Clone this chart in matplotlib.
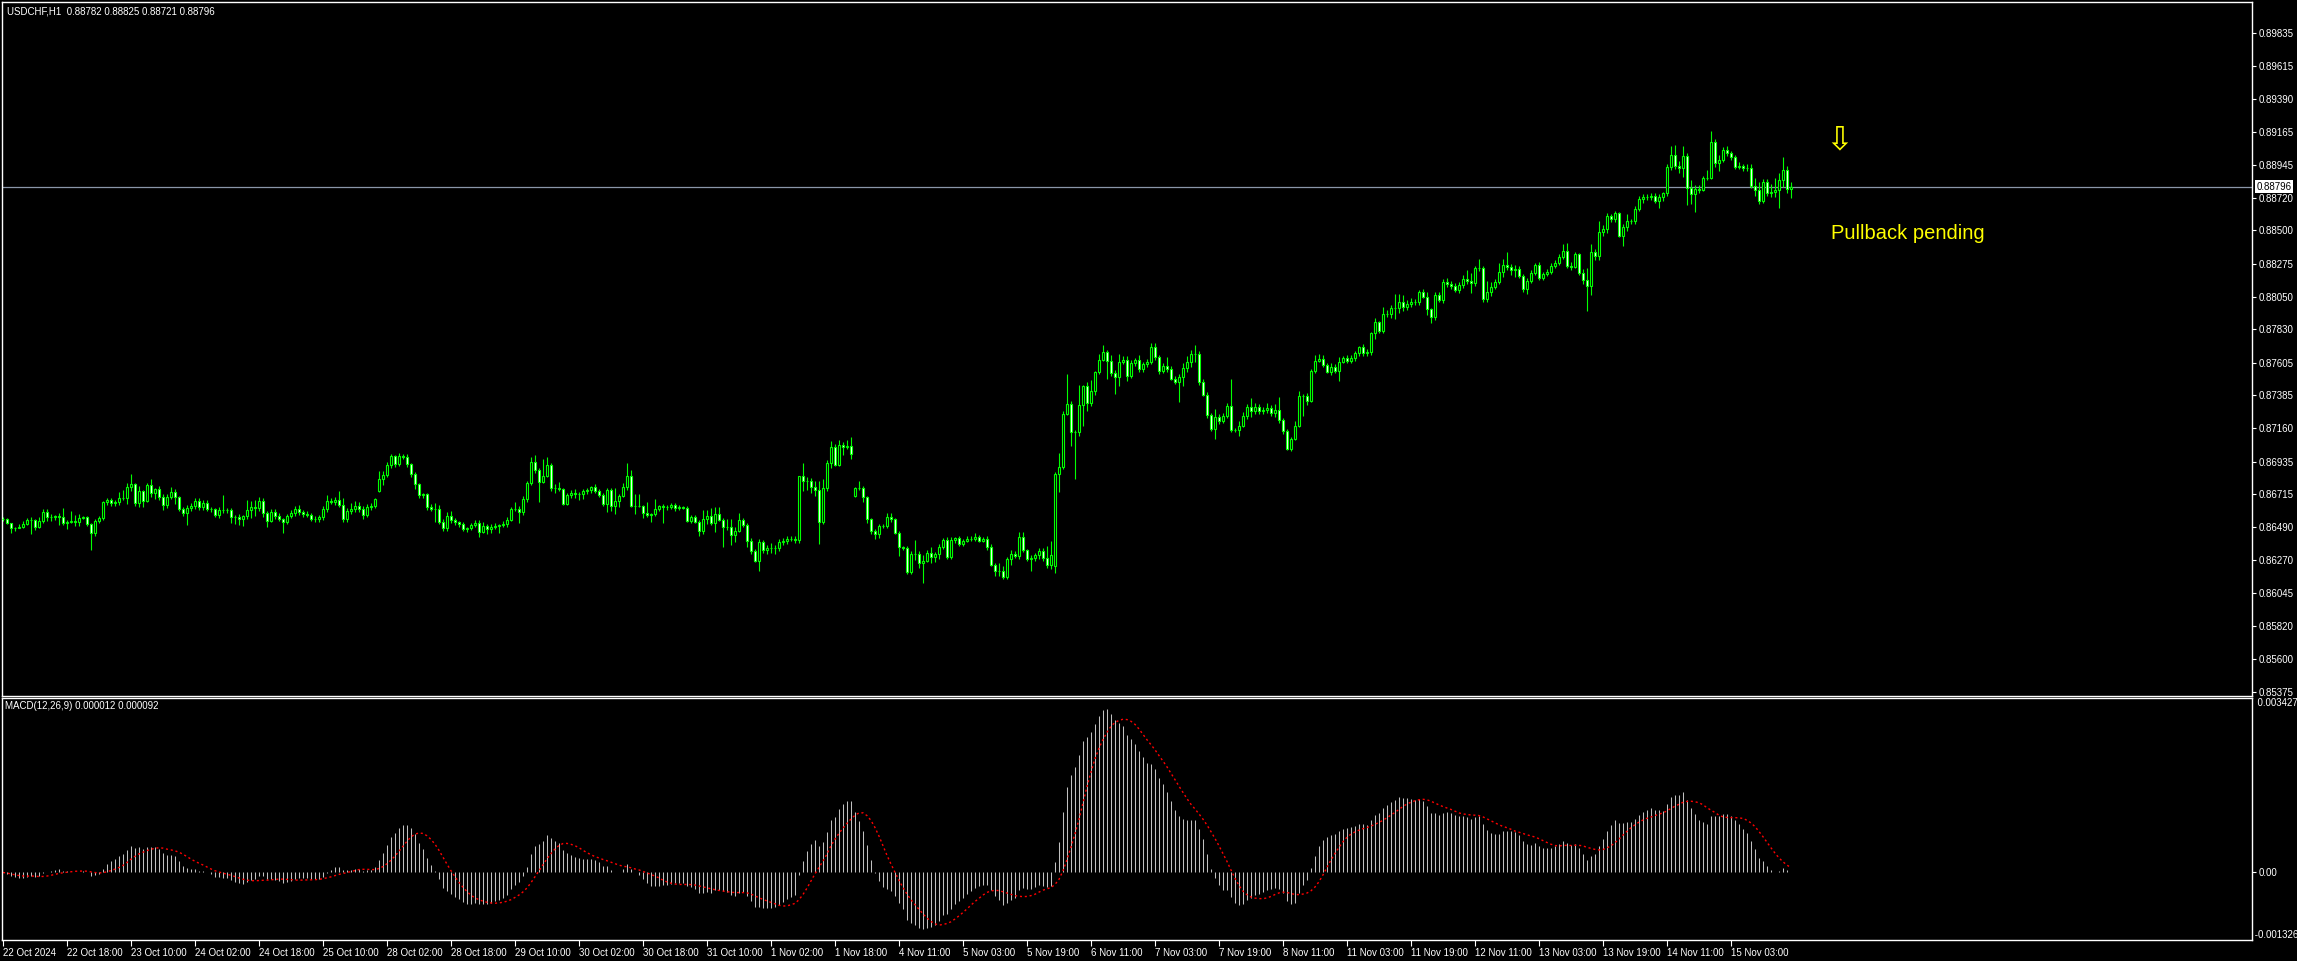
import numpy as np
import pandas as pd
import matplotlib
matplotlib.use('Agg')
import matplotlib.pyplot as plt

# USDCHF H1, closes in points (1e-5)
closes = [
    86544, 86516, 86483, 86487, 86494, 86512, 86539, 86539, 86494, 86530,
    86591, 86557, 86562, 86564, 86562, 86521, 86528, 86535, 86528, 86553,
    86557, 86510, 86449, 86532, 86550, 86659, 86672, 86656, 86659, 86686,
    86690, 86760, 86780, 86652, 86735, 86668, 86774, 86720, 86747, 86692,
    86638, 86692, 86726, 86692, 86611, 86584, 86618, 86636, 86670, 86625,
    86652, 86616, 86611, 86573, 86607, 86604, 86607, 86562, 86559, 86546,
    86564, 86607, 86625, 86618, 86668, 86589, 86535, 86591, 86564, 86544,
    86523, 86568, 86584, 86611, 86591, 86580, 86573, 86544, 86548, 86562,
    86611, 86668, 86659, 86672, 86643, 86548, 86600, 86611, 86634, 86611,
    86575, 86625, 86632, 86679, 86814, 86844, 86911, 86972, 86918, 86972,
    86968, 86916, 86848, 86780, 86706, 86715, 86629, 86616, 86616, 86528,
    86483, 86568, 86539, 86523, 86512,
    86478, 86483, 86506, 86522, 86461, 86499, 86477, 86490, 86497, 86504,
    86510, 86540, 86612, 86616, 86596, 86679, 86788, 86930, 86878, 86799,
    86837, 86912, 86758, 86754, 86747, 86648, 86709, 86722, 86715, 86718,
    86736, 86740, 86761, 86736, 86706, 86648, 86743, 86637, 86668, 86702,
    86761, 86837, 86634, 86637, 86634, 86589, 86573, 86578, 86612, 86632,
    86625, 86630, 86641, 86623, 86625, 86623, 86533, 86558, 86528, 86467,
    86544, 86567, 86517, 86580, 86540, 86494, 86494, 86438, 86465, 86540,
    86506, 86400, 86330, 86264, 86388, 86336, 86348, 86348, 86352, 86388,
    86395, 86409, 86409, 86404, 86837, 86803, 86801, 86765, 86743, 86528,
    86754, 86923, 87031, 86912, 87047, 87036, 87043, 86984, 86754, 86758,
    86693, 86544, 86467, 86443, 86499, 86497, 86562, 86544, 86454, 86355,
    86348, 86185, 86307, 86307, 86246, 86264, 86314, 86287, 86307, 86354,
    86404, 86287, 86404, 86415, 86375, 86397, 86413, 86409, 86424, 86400,
    86409, 86359, 86235, 86197, 86197, 86151, 86275, 86307, 86296, 86424,
    86336, 86273, 86284, 86303, 86330, 86280, 86235, 86300, 86851, 86896,
    87257, 87322, 87137, 87137, 87318, 87446, 87329, 87412, 87539, 87622,
    87674, 87618, 87537, 87509, 87607, 87622, 87516, 87604, 87622, 87559,
    87595, 87607, 87708, 87640, 87550, 87584, 87559, 87494, 87476, 87509,
    87570, 87611, 87661, 87665, 87471, 87385, 87250, 87155, 87234, 87212,
    87246, 87313, 87147, 87147, 87178, 87246, 87302, 87279, 87302, 87279,
    87282, 87295, 87266, 87284, 87216, 87142, 87020, 87088, 87176, 87379,
    87379, 87347, 87548, 87616, 87627, 87588, 87543, 87577, 87550, 87611,
    87633, 87615, 87633, 87667, 87708, 87667, 87674, 87803, 87877, 87821,
    87933, 87933, 87972, 87972, 88012, 87978, 87999, 88012, 88017, 88080,
    88051, 87965, 87911, 88062, 88028, 88148, 88134, 88125, 88096, 88130,
    88168, 88159, 88141, 88243, 88247, 88035, 88085, 88118, 88148, 88215,
    88265, 88249, 88231, 88238, 88193, 88100, 88157, 88209, 88265, 88175,
    88204, 88220, 88258, 88281, 88317, 88362, 88261, 88254, 88337, 88209,
    88163, 88125, 88355, 88328, 88486, 88506, 88597, 88574, 88615, 88463,
    88520, 88563, 88563, 88642, 88709, 88723, 88728, 88734, 88700, 88723,
    88750, 88926, 89009, 88937, 88919, 89003, 88784, 88743, 88779, 88773,
    88852, 88856, 89095, 88953, 88976, 89043, 89021, 88998, 88931, 88935,
    88919, 88919, 88800, 88773, 88698, 88824, 88750, 88761, 88773, 88840,
    88908, 88782, 88796,
]
# wick lengths above / below the body, points
up_wick = [
    10, 10, 5, 5, 15, 20, 15, 20, 10, 30, 20, 25, 15, 10, 20, 60, 10, 65, 35, 25,
    10, 10, 10, 15, 15, 10, 15, 15, 15, 45, 55, 30, 70, 10, 35, 10, 15, 45, 10, 20,
    25, 20, 35, 20, 10, 15, 25, 20, 20, 20, 25, 20, 10, 10, 20, 100, 10, 10, 10, 20,
    10, 65, 45, 50, 30, 20, 10, 25, 20, 20, 10, 10, 20, 25, 30, 15, 20, 15, 15, 10,
    20, 40, 20, 20, 65, 45, 20, 40, 35, 25, 20, 25, 25, 10, 60, 25, 20, 15, 10, 20,
    15, 15, 10, 15, 10, 10, 10, 20, 35, 25, 15, 25, 30, 15, 10,
    15, 10, 15, 20, 15, 25, 15, 20, 20, 10, 20, 20, 15, 45, 20, 20, 15, 35, 50, 10,
    113, 55, 15, 25, 40, 10, 10, 20, 25, 10, 15, 15, 10, 20, 15, 15, 15, 15, 90, 10,
    30, 90, 40, 80, 80, 10, 70, 10, 70, 10, 15, 10, 15, 15, 15, 10, 10, 15, 15, 10,
    65, 40, 55, 45, 45, 15, 55, 55, 30, 45, 15, 10, 15, 10, 20, 15, 25, 35, 20, 20,
    20, 25, 20, 25, 0, 86, 30, 20, 35, 60, 60, 25, 45, 20, 35, 20, 40, 60, 10, 45,
    10, 10, 10, 10, 15, 15, 25, 25, 10, 10,
    10, 15, 20, 97, 20, 40, 20, 45, 15, 25, 15, 20, 20, 10, 15, 15, 15, 15, 25, 15,
    15, 20, 15, 10, 50, 30, 15, 30, 20, 35, 35, 10, 15, 15, 20, 20, 80, 100, 10, 95,
    20, 205, 20, 10, 135, 10, 30, 75, 10, 40, 50, 15, 35, 20, 55, 30, 25, 20, 15, 35,
    15, 25, 30, 30, 15, 15, 55, 25, 20, 20, 30, 35, 30, 60, 15, 20, 20, 10, 55, 20,
    15, 20, 180, 15, 30, 25, 25, 65, 30, 20, 20, 35, 25, 40, 90, 15, 15, 15, 30, 30,
    10, 20, 10, 40, 35, 30, 15, 25, 15, 30,
    15, 20, 20, 15, 10, 20, 20, 10, 30, 10, 45, 30, 25, 97, 55, 50, 30, 30, 15, 15,
    20, 30, 10, 20, 20, 20, 30, 25, 20, 20, 30, 60, 55, 15, 60, 10, 70, 30, 20, 65,
    40, 85, 25, 25, 20, 10, 20, 20, 15, 20, 15, 20, 20, 15, 20, 45, 50, 25, 15, 10,
    30, 80, 50, 20, 75, 30, 20, 15, 15, 10, 20, 45, 15, 20, 20, 20, 20, 15, 20, 20,
    10, 20, 60, 70, 30, 65, 20, 55, 25, 30, 15, 50, 77, 25, 30, 20, 25, 15, 10, 25,
    15, 30, 30, 55, 55, 25, 20, 55, 80, 50, 90, 25, 29,
]
dn_wick = [
    10, 5, 30, 20, 5, 10, 10, 95, 20, 10, 10, 25, 25, 20, 60, 15, 40, 10, 30, 30,
    10, 10, 115, 20, 10, 10, 15, 20, 25, 20, 10, 40, 25, 20, 25, 40, 10, 25, 40, 15,
    30, 20, 10, 45, 10, 20, 80, 15, 20, 15, 20, 15, 20, 15, 20, 20, 20, 45, 50, 40,
    50, 20, 55, 55, 20, 30, 40, 10, 20, 15, 70, 10, 15, 15, 15, 20, 15, 10, 20, 25,
    20, 20, 10, 15, 15, 25, 20, 20, 15, 15, 30, 15, 15, 15, 10, 40, 15, 20, 20, 15,
    15, 20, 15, 30, 20, 15, 20, 15, 90, 15, 20, 20, 20, 15, 20,
    15, 20, 10, 15, 40, 10, 30, 25, 15, 45, 10, 15, 10, 10, 75, 20, 20, 10, 20, 135,
    10, 10, 20, 35, 15, 10, 10, 20, 25, 40, 40, 20, 20, 15, 10, 15, 55, 40, 55, 40,
    10, 20, 10, 55, 10, 35, 15, 45, 15, 15, 105, 15, 15, 20, 15, 10, 10, 15, 10, 35,
    20, 30, 10, 60, 10, 135, 20, 65, 50, 10, 15, 45, 20, 10, 70, 20, 30, 35, 40, 20,
    15, 15, 15, 20, 20, 65, 60, 40, 40, 150, 15, 20, 30, 10, 10, 60, 15, 30, 10, 10,
    30, 25, 25, 30, 25, 15, 10, 20, 10, 60,
    15, 10, 10, 40, 30, 130, 10, 40, 30, 35, 10, 10, 10, 20, 10, 10, 10, 15, 10, 10,
    10, 20, 10, 40, 40, 10, 10, 40, 15, 20, 15, 10, 80, 20, 30, 15, 20, 30, 50, 125,
    15, 10, 95, 320, 30, 140, 50, 15, 30, 15, 10, 125, 25, 115, 60, 15, 35, 15, 20, 15,
    15, 20, 10, 15, 25, 15, 15, 10, 15, 135, 65, 30, 35, 50, 15, 10, 20, 15, 70, 25,
    15, 15, 10, 15, 40, 10, 20, 40, 25, 20, 25, 20, 25, 30, 20, 20, 10, 15, 10, 10,
    135, 30, 10, 15, 10, 15, 10, 20, 15, 70,
    10, 15, 10, 15, 15, 15, 15, 20, 40, 15, 15, 20, 25, 70, 30, 25, 20, 15, 20, 20,
    10, 40, 40, 15, 15, 20, 15, 25, 15, 20, 20, 25, 65, 20, 20, 20, 20, 30, 15, 10,
    30, 20, 35, 50, 15, 15, 30, 15, 15, 15, 15, 15, 15, 15, 15, 10, 15, 20, 10, 10,
    25, 170, 60, 30, 30, 25, 25, 20, 20, 10, 70, 25, 20, 20, 15, 25, 15, 20, 15, 50,
    25, 20, 15, 20, 30, 60, 110, 65, 120, 20, 10, 15, 10, 25, 55, 15, 20, 25, 15, 15,
    20, 15, 15, 40, 20, 15, 20, 25, 35, 120, 50, 30, 61,
]
first_open = 86548
gap_opens = {94: 86738, 213: 86704, 263: 86231}   # weekend / news gaps

last_price = 0.88796
price_ticks = ['0.89835', '0.89615', '0.89390', '0.89165', '0.88945', '0.88720',
               '0.88500', '0.88275', '0.88050', '0.87830', '0.87605', '0.87385',
               '0.87160', '0.86935', '0.86715', '0.86490', '0.86270', '0.86045',
               '0.85820', '0.85600', '0.85375']
date_labels = ['22 Oct 2024', '22 Oct 18:00', '23 Oct 10:00', '24 Oct 02:00',
               '24 Oct 18:00', '25 Oct 10:00', '28 Oct 02:00', '28 Oct 18:00',
               '29 Oct 10:00', '30 Oct 02:00', '30 Oct 18:00', '31 Oct 10:00',
               '1 Nov 02:00', '1 Nov 18:00', '4 Nov 11:00', '5 Nov 03:00',
               '5 Nov 19:00', '6 Nov 11:00', '7 Nov 03:00', '7 Nov 19:00',
               '8 Nov 11:00', '11 Nov 03:00', '11 Nov 19:00', '12 Nov 11:00',
               '13 Nov 03:00', '13 Nov 19:00', '14 Nov 11:00', '15 Nov 03:00']
macd_top, macd_bot = 0.003427, -0.001326

# ---- build OHLC
c = np.array(closes) / 1e5
o = np.r_[first_open / 1e5, c[:-1]]
for k, v in gap_opens.items():
    o[k] = v / 1e5
hi = np.maximum(o, c) + np.array(up_wick) / 1e5
lo = np.minimum(o, c) - np.array(dn_wick) / 1e5
n = len(c)
x = np.arange(n)

s = pd.Series(c)
macd = s.ewm(span=12, adjust=False).mean() - s.ewm(span=26, adjust=False).mean()
signal = macd.rolling(9, min_periods=1).mean()

W, H = 2297, 961
plt.rcParams['font.family'] = ['Liberation Sans', 'DejaVu Sans']
fig = plt.figure(figsize=(W / 100, H / 100), dpi=100, facecolor='black')
ax = fig.add_axes([2 / W, 1 - 696 / H, 2250 / W, 694 / H], facecolor='black')
ax2 = fig.add_axes([2 / W, 1 - 940 / H, 2250 / W, 242 / H], facecolor='black', sharex=ax)

lime = '#00ff00'
ax.vlines(x, lo, hi, color=lime, lw=0.8, zorder=2)
bull = c >= o
ax.bar(x[bull], (c - o)[bull], bottom=o[bull], width=0.55, color='black',
       edgecolor=lime, lw=0.8, zorder=3)
ax.bar(x[~bull], (c - o)[~bull], bottom=o[~bull], width=0.55, color='white',
       edgecolor=lime, lw=0.8, zorder=3)
ax.axhline(last_price, color='#8a96a8', lw=0.9, zorder=1)

ax.set_xlim(-0.25, 562.25)
ax.set_ylim(0.85348, 0.900448)
ax.yaxis.tick_right()
ax.set_yticks([float(t) for t in price_ticks])
ax.set_yticklabels(price_ticks)
ax.tick_params(axis='y', colors='white', labelsize=7, length=3, width=0.8, pad=2)
ax.tick_params(axis='x', bottom=False, labelbottom=False)
ax.annotate('%.5f' % last_price, xy=(1, last_price), xycoords=('axes fraction', 'data'),
            xytext=(3, 0), textcoords='offset points', ha='left', va='center',
            fontsize=7, color='black',
            bbox=dict(boxstyle='square,pad=0.15', fc='white', ec='none'))

ax.text(457, 0.88475, 'Pullback pending', color='#ffff00', fontsize=14.5,
        ha='left', va='center')
ax.text(459, 0.89110, '\u21e9', color='#ffff00', fontsize=24, ha='center',
        va='center', family=['DejaVu Sans'])

# ---- MACD
ax2.vlines(x, 0, macd, color='#c0c0c0', lw=0.75)
ax2.plot(x, signal, color='#ff0000', ls=(0, (1.5, 2)), lw=1.0)
ax2.set_ylim(macd_bot, macd_top)
ax2.yaxis.tick_right()
ax2.set_yticks([0.0])
ax2.set_yticklabels(['0.00'])
ax2.tick_params(axis='y', colors='white', labelsize=7, length=3, width=0.8, pad=2)
ax2.text(1.0, 1.0, '  %.6f' % macd_top, transform=ax2.transAxes, color='white',
         fontsize=7, ha='left', va='top')
ax2.text(1.0, 0.0, ' %.6f' % macd_bot, transform=ax2.transAxes, color='white',
         fontsize=7, ha='left', va='bottom')
ax2.set_xticks(np.arange(len(date_labels)) * 16)
ax2.set_xticklabels(date_labels, ha='left')
ax2.tick_params(axis='x', colors='white', labelsize=7, length=4, width=0.8, pad=2)

for a in (ax, ax2):
    for sp in a.spines.values():
        sp.set_color('white')
        sp.set_linewidth(1.0)

fig.text(7 / W, 1 - 11 / H, 'USDCHF,H1  0.88782 0.88825 0.88721 0.88796',
         color='white', fontsize=7, va='center')
fig.text(5 / W, 1 - 706 / H, 'MACD(12,26,9) 0.000012 0.000092',
         color='white', fontsize=7, va='center')

fig.savefig('out.png', dpi=100, facecolor='black')
